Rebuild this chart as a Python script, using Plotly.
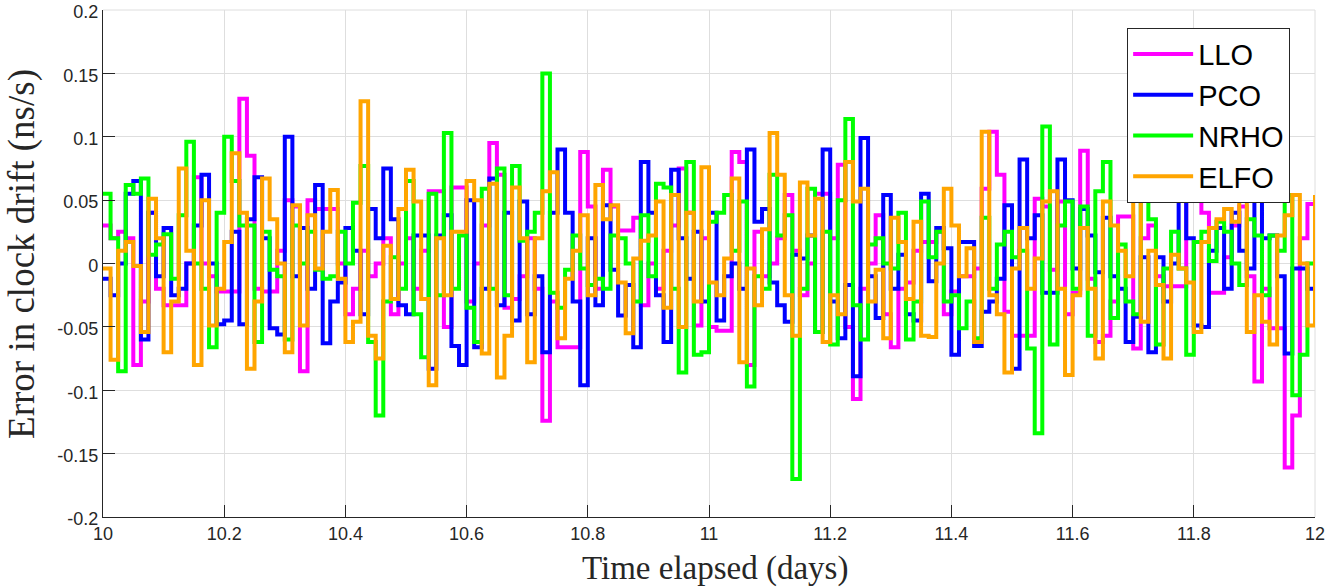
import plotly.graph_objects as go

# sample times (days) - uniform grid from 10 to 12
t_start, t_end, n_pts = 10.0, 12.0, 161
time_days = [t_start + i * (t_end - t_start) / (n_pts - 1) for i in range(n_pts)]

llo = [0.03, 0.02, 0.025, 0.02, -0.08, -0.03, 0.04, -0.02, -0.033, -0.033,
       -0.033, 0.0, 0.068, 0.0, -0.01, -0.022, -0.022, -0.022, 0.13, 0.085,
       -0.02, -0.022, -0.022, 0.01, 0.05, 0.045, -0.085, 0.05, 0.043, 0.043,
       0.043, 0.0, -0.04, -0.02, 0.01, -0.01, 0.0, 0.02, -0.04, 0.0,
       0.02, -0.02, 0.01, 0.057, 0.057, -0.05, 0.06, 0.06, -0.03, 0.0,
       0.03, 0.095, 0.07, -0.035, -0.028, -0.01, 0.02, -0.02, -0.124, -0.03,
       -0.066, -0.066, -0.066, 0.088, 0.045, -0.02, 0.074, 0.045, 0.026, 0.026,
       0.036, -0.033, 0.0, -0.02, 0.01, 0.03, 0.075, 0.04, -0.049, 0.02,
       -0.05, -0.053, -0.053, 0.088, 0.08, -0.08, 0.025, -0.01, 0.0, 0.02,
       0.054, 0.01, -0.025, 0.0, 0.055, 0.055, 0.02, 0.078, -0.05, -0.107,
       -0.02, 0.0, 0.038, -0.04, -0.066, -0.02, -0.015, 0.01, 0.017, 0.017,
       0.025, -0.04, -0.022, -0.01, -0.01, -0.004, 0.059, 0.104, 0.07, -0.038,
       -0.057, -0.057, -0.057, 0.051, 0.045, -0.005, 0.049, -0.04, -0.023, 0.089,
       -0.012, -0.062, -0.057, -0.03, 0.037, 0.037, -0.067, 0.02, 0.03, -0.01,
       -0.018, -0.018, -0.018, 0.054, 0.05, 0.04, -0.023, -0.023, 0.005, 0.03,
       0.045, -0.01, -0.093, -0.02, -0.051, -0.051, -0.161, -0.12, 0.02, 0.047,
       0.047]

pco = [-0.012, -0.025, 0.0, 0.055, 0.065, -0.06, 0.04, -0.01, 0.028, -0.025,
       -0.02, 0.0, 0.03, 0.07, 0.0, -0.048, -0.045, 0.025, -0.048, 0.035,
       0.068, 0.02, -0.051, -0.056, 0.1, -0.01, 0.028, -0.02, 0.062, -0.063,
       -0.03, -0.015, 0.028, 0.01, -0.04, 0.043, 0.02, 0.075, 0.035, -0.033,
       -0.04, 0.022, 0.022, -0.083, 0.022, 0.038, -0.065, -0.08, 0.05, -0.066,
       -0.02, 0.067, -0.033, 0.04, -0.045, 0.049, -0.04, -0.01, -0.07, 0.04,
       0.09, 0.04, -0.03, -0.096, 0.02, -0.033, 0.046, -0.005, -0.041, -0.017,
       -0.066, 0.08, 0.04, -0.025, -0.062, 0.074, 0.02, -0.012, 0.025, -0.03,
       0.04, -0.045, -0.01, 0.0, -0.02, 0.09, 0.033, 0.043, -0.015, -0.033,
       -0.046, 0.007, 0.004, 0.022, -0.054, 0.09, -0.03, -0.059, -0.017, -0.089,
       0.099, -0.01, -0.043, 0.054, -0.02, 0.007, -0.04, -0.045, 0.055, -0.014,
       0.028, 0.012, -0.072, 0.017, 0.017, -0.065, -0.038, -0.03, -0.012, 0.046,
       -0.083, 0.082, 0.02, 0.038, -0.023, -0.023, 0.082, 0.05, -0.004, 0.043,
       0.022, -0.007, 0.036, -0.01, -0.02, -0.062, -0.042, 0.005, -0.07, 0.005,
       -0.03, 0.0, 0.075, 0.02, -0.049, -0.05, 0.01, 0.028, -0.02, 0.04,
       0.01, -0.004, 0.09, 0.02, 0.022, -0.01, -0.071, -0.004, -0.004, -0.02,
       0.028]

nrho = [0.055, 0.02, -0.085, 0.062, 0.055, 0.067, 0.007, 0.015, 0.023, -0.012,
        0.038, 0.096, 0.0, -0.02, -0.066, 0.04, 0.1, 0.065, 0.03, 0.03,
        -0.062, 0.025, -0.005, -0.01, -0.06, 0.03, 0.0, 0.025, -0.005, -0.012,
        -0.01, 0.025, 0.0, 0.048, 0.077, -0.062, -0.12, -0.03, 0.005, -0.02,
        0.065, -0.04, -0.074, 0.055, -0.025, 0.103, -0.02, 0.022, -0.035, -0.062,
        0.059, -0.02, 0.075, -0.025, 0.077, 0.018, 0.025, 0.04, 0.15, -0.023,
        -0.035, -0.005, 0.022, -0.004, -0.017, -0.012, -0.02, 0.022, 0.02, 0.0,
        -0.03, 0.038, -0.01, 0.063, 0.06, -0.02, -0.086, 0.08, -0.072, -0.07,
        0.033, 0.04, 0.054, 0.01, 0.049, -0.097, -0.01, -0.02, 0.07, 0.022,
        0.038, -0.17, -0.02, 0.059, -0.054, 0.025, -0.064, 0.05, 0.114, -0.033,
        -0.06, 0.015, 0.02, 0.0, -0.004, 0.04, -0.06, -0.03, 0.049, 0.005,
        0.025, -0.03, -0.025, -0.051, -0.03, -0.059, 0.036, -0.02, 0.015, 0.025,
        0.005, 0.01, -0.067, -0.134, 0.108, -0.064, 0.03, 0.049, -0.02, 0.045,
        -0.057, 0.057, 0.08, -0.043, 0.015, -0.03, -0.04, 0.054, 0.035, -0.064,
        -0.004, 0.025, -0.004, -0.072, 0.017, 0.025, 0.002, 0.033, 0.025, 0.0,
        -0.017, 0.035, 0.022, -0.025, 0.022, 0.01, 0.054, -0.104, -0.072, 0.0,
        0.038]

elfo = [-0.004, -0.076, 0.01, 0.017, -0.002, -0.054, 0.051, 0.02, -0.07, -0.03,
        0.075, 0.01, -0.08, 0.05, -0.049, -0.02, 0.017, 0.087, 0.04, -0.083,
        -0.03, 0.067, 0.035, 0.0, -0.07, 0.046, -0.049, 0.038, -0.004, 0.025,
        0.058, -0.012, -0.062, -0.046, 0.128, -0.057, -0.075, 0.014, -0.028, 0.043,
        0.074, 0.049, -0.028, -0.096, 0.02, -0.025, 0.025, 0.025, 0.065, 0.05,
        -0.071, 0.063, -0.09, -0.057, 0.06, 0.02, -0.078, 0.02, 0.057, 0.072,
        -0.059, -0.012, 0.01, 0.038, -0.025, 0.062, 0.035, 0.046, -0.015, -0.055,
        0.004, 0.018, 0.022, 0.049, -0.035, 0.054, -0.05, 0.04, -0.03, 0.076,
        -0.015, -0.025, 0.004, 0.067, -0.078, -0.004, -0.033, 0.027, 0.103, 0.07,
        -0.025, -0.057, 0.064, 0.022, 0.051, -0.062, -0.025, -0.04, 0.08, 0.049,
        0.059, -0.03, -0.005, -0.059, 0.036, 0.017, -0.028, 0.033, -0.057, -0.058,
        0.0, 0.059, 0.03, -0.01, 0.012, -0.062, 0.104, -0.025, -0.04, -0.086,
        -0.004, 0.028, -0.02, 0.004, 0.049, 0.057, -0.02, -0.088, -0.025, 0.028,
        -0.02, -0.075, 0.049, 0.03, 0.01, -0.01, 0.054, -0.046, 0.01, -0.017,
        -0.075, 0.007, -0.004, -0.015, -0.054, 0.017, 0.028, 0.035, 0.043, 0.033,
        0.054, -0.054, -0.025, -0.046, -0.064, 0.022, 0.038, 0.054, 0.0, -0.049,
        0.054]

series_names = ["LLO", "PCO", "NRHO", "ELFO"]
series_colors = ["#FF00FF", "#0000FF", "#00FF00", "#FFA500"]

x_tick_vals = [10, 10.2, 10.4, 10.6, 10.8, 11, 11.2, 11.4, 11.6, 11.8, 12]
x_tick_text = ["10", "10.2", "10.4", "10.6", "10.8", "11", "11.2", "11.4", "11.6", "11.8", "12"]
y_tick_vals = [-0.2, -0.15, -0.1, -0.05, 0, 0.05, 0.1, 0.15, 0.2]
y_tick_text = ["-0.2", "-0.15", "-0.1", "-0.05", "0", "0.05", "0.1", "0.15", "0.2"]

fig = go.Figure()
for name, color, vals in zip(series_names, series_colors, [llo, pco, nrho, elfo]):
    fig.add_trace(go.Scatter(
        x=time_days, y=vals, mode="lines", name=name,
        line=dict(color=color, width=4, shape="hv"),
    ))

axis_font = dict(family="Liberation Sans, Arial, sans-serif", size=18, color="#262626")
serif = "Liberation Serif, Times New Roman, serif"
grid_col = "#dedede"

fig.update_layout(
    width=1336, height=587,
    margin=dict(l=103, r=21, t=10, b=70),
    paper_bgcolor="white", plot_bgcolor="white",
    showlegend=True,
    legend=dict(
        x=0.845, y=0.965, xanchor="left", yanchor="top",
        bgcolor="white", bordercolor="#262626", borderwidth=1,
        font=dict(family="Liberation Sans, Arial, sans-serif", size=29, color="black"),
        tracegroupgap=0, itemwidth=60,
    ),
    xaxis=dict(
        range=[10, 12], tickvals=x_tick_vals, ticktext=x_tick_text,
        showgrid=True, gridcolor=grid_col, gridwidth=1,
        showline=True, linecolor="#262626", linewidth=1.2, mirror=False,
        ticks="inside", ticklen=12, tickcolor="#262626", tickwidth=1.2,
        tickfont=axis_font, zeroline=False, automargin=False,
        ticklabeloverflow="allow",
    ),
    yaxis=dict(
        range=[-0.2, 0.2], tickvals=y_tick_vals, ticktext=y_tick_text,
        showgrid=True, gridcolor=grid_col, gridwidth=1,
        showline=True, linecolor="#262626", linewidth=1.2, mirror=False,
        ticks="inside", ticklen=12, tickcolor="#262626", tickwidth=1.2,
        tickfont=axis_font, zeroline=False, automargin=False,
        ticklabeloverflow="allow", ticklabelshift=2,
    ),
    shapes=[
        dict(type="line", xref="paper", yref="paper", x0=0, x1=1, y0=1, y1=1,
             line=dict(color=grid_col, width=1), layer="below"),
        dict(type="line", xref="paper", yref="paper", x0=1, x1=1, y0=0, y1=1,
             line=dict(color=grid_col, width=1), layer="below"),
    ],
    annotations=[
        dict(
            text="Error in clock drift (ns/s)", textangle=-90,
            xref="paper", yref="paper", x=-0.0668, y=0.519,
            xanchor="center", yanchor="middle", showarrow=False,
            font=dict(family=serif, size=37, color="#262626"),
        ),
        dict(
            text="Time elapsed (days)",
            xref="paper", yref="paper", x=0.505, y=-0.102,
            xanchor="center", yanchor="middle", showarrow=False,
            font=dict(family=serif, size=33, color="#262626"),
        ),
    ],
)

fig.write_html("out.html", post_script="document.body.style.margin='0';",
               config={"displayModeBar": False})
